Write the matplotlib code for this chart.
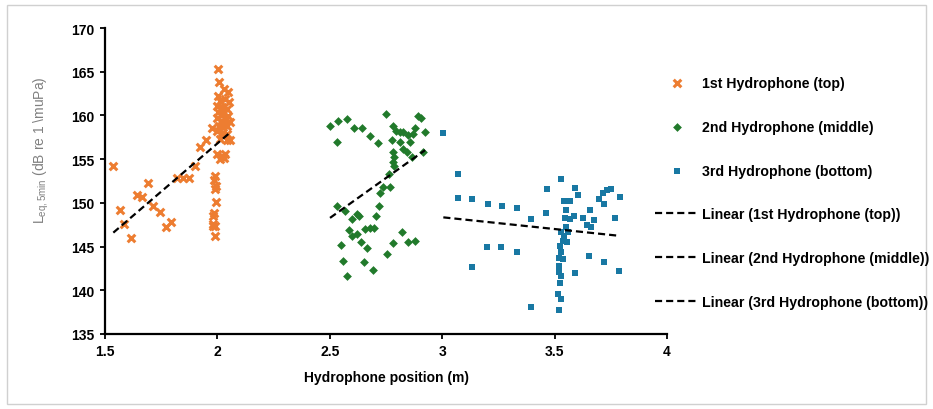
import numpy as np
import matplotlib
matplotlib.use("Agg")
import matplotlib.pyplot as plt
from matplotlib.patches import Rectangle

plt.rcParams['font.family'] = ['Liberation Sans', 'DejaVu Sans']
plt.rcParams['mathtext.fontset'] = 'custom'
plt.rcParams['mathtext.rm'] = 'Liberation Sans'

# ---------------- data ----------------
top_x = [1.537, 1.567, 1.585, 1.616, 1.641, 1.665, 1.693, 1.715, 1.745, 1.770,
         1.794, 1.822, 1.846, 1.875, 1.900, 1.923, 1.949, 1.977,
         1.989, 1.985, 1.994, 1.991, 1.994, 1.985, 1.979, 1.982, 1.979, 1.991, 1.989,
         2.000, 2.019, 2.034, 2.012, 2.029, 2.041, 2.056,
         2.004, 2.007, 2.029, 2.049,
         2.004, 2.012, 2.034, 2.053, 2.000, 2.019, 2.041, 2.004, 2.026, 2.049,
         2.000, 2.015, 2.034, 2.056, 2.009, 2.026, 2.044, 1.997, 2.019, 2.041,
         2.012, 2.026, 2.034, 2.015]
top_y = [154.25, 149.22, 147.58, 145.94, 150.90, 150.71, 152.23, 149.68, 148.92, 147.20,
         147.85, 152.84, 152.80, 152.84, 154.18, 156.35, 157.19, 158.52,
         153.11, 152.65, 151.97, 151.59, 150.06, 148.84, 148.53, 147.58, 147.39, 147.39, 146.25,
         155.59, 155.40, 155.59, 155.02, 155.09, 157.23, 157.23,
         165.31, 163.79, 163.02, 162.64,
         162.26, 161.69, 161.88, 161.57, 161.12, 160.93, 160.73, 160.35, 160.16, 159.97,
         159.67, 159.40, 159.59, 159.29, 158.83, 158.64, 158.83, 158.26, 157.99, 157.88,
         157.30, 157.69, 159.02, 160.73]

mid_x = [2.501, 2.538, 2.575, 2.534, 2.608, 2.642, 2.679, 2.713, 2.749, 2.783,
         2.795, 2.812, 2.827, 2.849, 2.879, 2.894, 2.904, 2.872, 2.857, 2.924,
         2.775, 2.812, 2.827, 2.842, 2.864, 2.913, 2.783, 2.786, 2.783, 2.786,
         2.765, 2.738, 2.723, 2.768, 2.531, 2.568, 2.720, 2.597, 2.620, 2.631,
         2.706, 2.587, 2.597, 2.620, 2.657, 2.679, 2.697, 2.637, 2.667, 2.548,
         2.820, 2.783, 2.849, 2.879, 2.753, 2.560, 2.652, 2.694, 2.575]
mid_y = [158.75, 159.40, 159.59, 157.00, 158.52, 158.52, 157.61, 156.81, 160.16, 158.75,
         158.26, 158.07, 158.14, 157.76, 158.52, 159.90, 159.67, 157.88, 157.00, 158.07,
         157.23, 156.92, 156.16, 155.78, 155.21, 155.78, 155.78, 155.21, 154.64, 154.25,
         153.30, 151.78, 151.13, 151.78, 149.60, 149.11, 149.60, 148.15, 148.72, 148.46,
         148.54, 146.93, 146.17, 146.44, 147.01, 147.09, 147.09, 145.56, 144.84, 145.18,
         146.63, 145.41, 145.56, 145.68, 144.15, 143.39, 143.20, 142.36, 141.60]

bot_x = [3.005, 3.072, 3.072, 3.134, 3.202, 3.266, 3.331, 3.394, 3.462, 3.465,
         3.528, 3.542, 3.568, 3.592, 3.603, 3.551, 3.546, 3.568, 3.586, 3.551,
         3.561, 3.527, 3.542, 3.554, 3.536, 3.524, 3.527, 3.521, 3.539, 3.521,
         3.520, 3.527, 3.524, 3.517, 3.527, 3.521, 3.395, 3.589, 3.654, 3.718,
         3.786, 3.201, 3.263, 3.331, 3.134, 3.625, 3.657, 3.677, 3.643, 3.660,
         3.699, 3.714, 3.732, 3.751, 3.721, 3.791, 3.769]
bot_y = [157.99, 153.30, 150.56, 150.44, 149.83, 149.64, 149.41, 148.15, 148.80, 151.58,
         152.73, 150.25, 150.17, 151.66, 150.90, 149.22, 148.23, 148.15, 148.54, 147.20,
         146.63, 146.63, 146.25, 145.56, 145.68, 145.10, 144.34, 143.66, 143.58, 142.82,
         142.05, 141.60, 140.80, 139.58, 139.00, 137.78, 138.05, 141.94, 143.96, 143.27,
         142.24, 144.91, 144.99, 144.42, 142.70, 148.27, 149.18, 148.04, 147.47, 147.28,
         150.44, 151.13, 151.47, 151.62, 149.83, 150.63, 148.27]

series_names = ["1st Hydrophone (top)", "2nd Hydrophone (middle)", "3rd Hydrophone (bottom)"]
x_ticks = [1.5, 2, 2.5, 3, 3.5, 4]
x_tick_labels = ["1.5", "2", "2.5", "3", "3.5", "4"]
y_ticks = [135, 140, 145, 150, 155, 160, 165, 170]

colors = ["#ED7D31", "#217A2B", "#1878A3"]
markers = ["x", "D", "s"]
sizes = [30, 20, 24]

# ---------------- figure ----------------
W, H = 933, 410
fig = plt.figure(figsize=(W / 100, H / 100), dpi=100)
ax = fig.add_axes([105 / W, 1 - 335 / H, (667 - 105) / W, (335 - 29) / H])

data = [(top_x, top_y), (mid_x, mid_y), (bot_x, bot_y)]
scatter_handles = []
for (xs, ys), c, m, s, name in zip(data, colors, markers, sizes, series_names):
    if m == "x":
        h = ax.scatter(xs, ys, marker=m, s=s, color=c, linewidths=2.2, label=name, zorder=3)
    else:
        h = ax.scatter(xs, ys, marker=m, s=s, color=c, linewidths=0, label=name, zorder=3)
    scatter_handles.append(h)

line_handles = []
for (xs, ys), name in zip(data, series_names):
    xs_a = np.asarray(xs)
    ys_a = np.asarray(ys)
    k, b = np.polyfit(xs_a, ys_a, 1)
    xx = np.array([xs_a.min(), xs_a.max()])
    h, = ax.plot(xx, k * xx + b, color="black", linestyle=(0, (3.2, 1.8)), linewidth=1.6,
                 label=f"Linear ({name})", zorder=4)
    line_handles.append(h)

ax.set_xlim(1.5, 4)
ax.set_ylim(135, 170)
ax.set_xticks(x_ticks)
ax.set_xticklabels(x_tick_labels)
ax.set_yticks(y_ticks)
for sp in ["top", "right"]:
    ax.spines[sp].set_visible(False)
for sp in ["left", "bottom"]:
    ax.spines[sp].set_linewidth(1.6)
    ax.spines[sp].set_color("black")
ax.tick_params(direction="out", length=3.5, width=1.3, labelsize=10, pad=4)
for lbl in ax.get_xticklabels() + ax.get_yticklabels():
    lbl.set_fontweight("bold")

ax.set_xlabel("Hydrophone position (m)", fontsize=10, fontweight="bold", labelpad=8)
ax.set_ylabel(r"L$_{\mathrm{eq,5min}}$ (dB re 1 \muPa)", fontsize=10, color="#808080")
ax.yaxis.set_label_coords(-0.096, 0.605)

leg = fig.legend(scatter_handles + line_handles,
                 [h.get_label() for h in scatter_handles + line_handles],
                 loc="upper left", bbox_to_anchor=(648 / W, 1 - 70 / H),
                 frameon=False, labelspacing=2.1,
                 handlelength=3.1, handletextpad=0.2, borderpad=0, scatterpoints=1,
                 prop={"weight": "bold", "size": 10.2})

# outer light border
fig.patches.append(Rectangle((7 / W, 5 / H), (926 - 7) / W, (404 - 5) / H,
                             transform=fig.transFigure, fill=False,
                             edgecolor="#D0D0D0", linewidth=1.0))

fig.savefig("out.png", dpi=100)
